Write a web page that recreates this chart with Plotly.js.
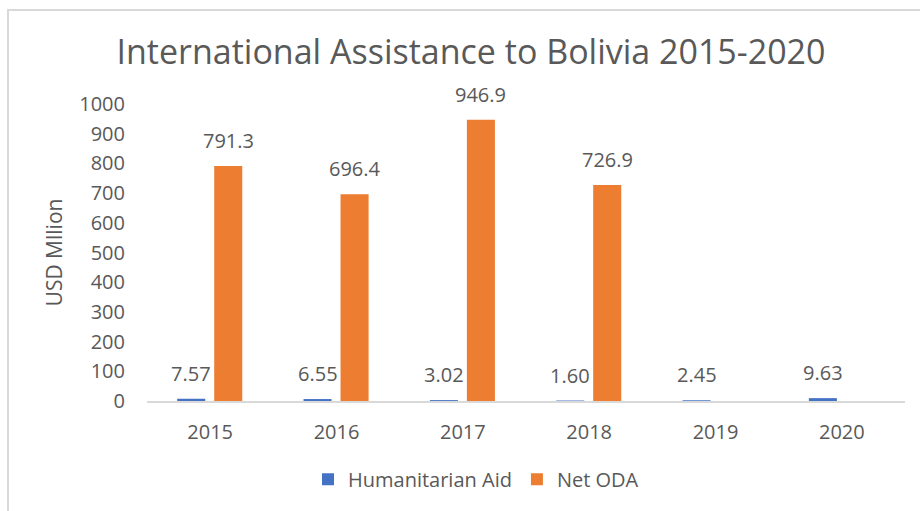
<!DOCTYPE html>
<html>
<head>
<meta charset="utf-8">
<script src="https://cdn.plot.ly/plotly-3.0.1.min.js"></script>
<style>
html,body{margin:0;padding:0;background:#fff;}
#chart{width:920px;height:511px;}
</style>
</head>
<body>
<div id="chart"></div>
<script>
var years = ['2015','2016','2017','2018','2019','2020'];
var humanitarianAid = [7.57, 6.55, 3.02, 1.60, 2.45, 9.63];
var netODA = [791.3, 696.4, 946.9, 726.9, null, null];
var yTicks = [0,100,200,300,400,500,600,700,800,900,1000];

var FONT = 'Open Sans, Noto Sans, sans-serif';
var GREY = '#595959';
var BLUE = '#4472C4';
var ORANGE = '#ED7D31';

var traces = [
  {type:'bar', name:'Humanitarian Aid', x:years, y:humanitarianAid,
   marker:{color:BLUE}, width:0.222, offset:-0.261, hoverinfo:'x+y'},
  {type:'bar', name:'Net ODA', x:years, y:netODA,
   marker:{color:ORANGE}, width:0.222, offset:0.032, hoverinfo:'x+y'}
];

var annotations = [];
years.forEach(function(yr, i){
  if (humanitarianAid[i] !== null) {
    annotations.push({x:i, y:humanitarianAid[i], xref:'x', yref:'y',
      text:humanitarianAid[i].toFixed(2), showarrow:false, yanchor:'bottom',
      xshift:-19, yshift:10, font:{family:FONT, size:20, color:GREY}});
  }
  if (netODA[i] !== null) {
    annotations.push({x:i, y:netODA[i], xref:'x', yref:'y',
      text:netODA[i].toFixed(1), showarrow:false, yanchor:'bottom',
      xshift:18, yshift:10, font:{family:FONT, size:20, color:GREY}});
  }
});

// px -> paper helpers for the outer frame
var L = 147, R = 15, T = 104, B = 107, W = 920, H = 511;
var pw = W - L - R, ph = H - T - B;
function px(x){ return (x - L) / pw; }
function py(y){ return (H - B - y) / ph; }

var layout = {
  width: W, height: H,
  margin: {l:L, r:R, t:T, b:B, pad:0},
  paper_bgcolor:'#fff', plot_bgcolor:'#fff',
  font:{family:FONT, color:GREY},
  title:{text:'International Assistance to Bolivia 2015-2020',
    font:{family:FONT, size:34, color:GREY},
    x:471/W, xref:'container', xanchor:'center', y:1-52/H, yanchor:'middle'},
  barmode:'group',
  showlegend:true,
  legend:{orientation:'h', x:px(476), xanchor:'center', xref:'paper',
    y:py(483), yanchor:'middle', font:{family:FONT, size:20, color:GREY},
    itemwidth:30, traceorder:'normal'},
  xaxis:{type:'category', categoryorder:'array', categoryarray:years,
    range:[-0.5, 5.5], autorange:false, showgrid:false, zeroline:false,
    showline:true, linecolor:'#d9d9d9', linewidth:1.5,
    ticks:'outside', ticklen:12, tickcolor:'rgba(0,0,0,0)',
    tickfont:{family:FONT, size:20, color:GREY}},
  yaxis:{range:[0,1000], autorange:false, tickvals:yTicks, showgrid:false, zeroline:false,
    showline:false, ticks:'outside', ticklen:17, tickcolor:'rgba(0,0,0,0)',
    tickfont:{family:FONT, size:20, color:GREY},
    title:{text:'USD Mllion', font:{family:FONT, size:21, color:GREY}, standoff:10}},
  annotations: annotations,
  shapes:[
    {type:'line', xref:'paper', yref:'paper', x0:px(8), x1:px(8), y0:py(520), y1:py(9),
     line:{color:'#d9d9d9', width:2}},
    {type:'line', xref:'paper', yref:'paper', x0:px(7), x1:px(930), y0:py(9), y1:py(9),
     line:{color:'#d9d9d9', width:2}}
  ]
};

Plotly.newPlot('chart', traces, layout, {displayModeBar:false, staticPlot:true});
</script>
</body>
</html>
